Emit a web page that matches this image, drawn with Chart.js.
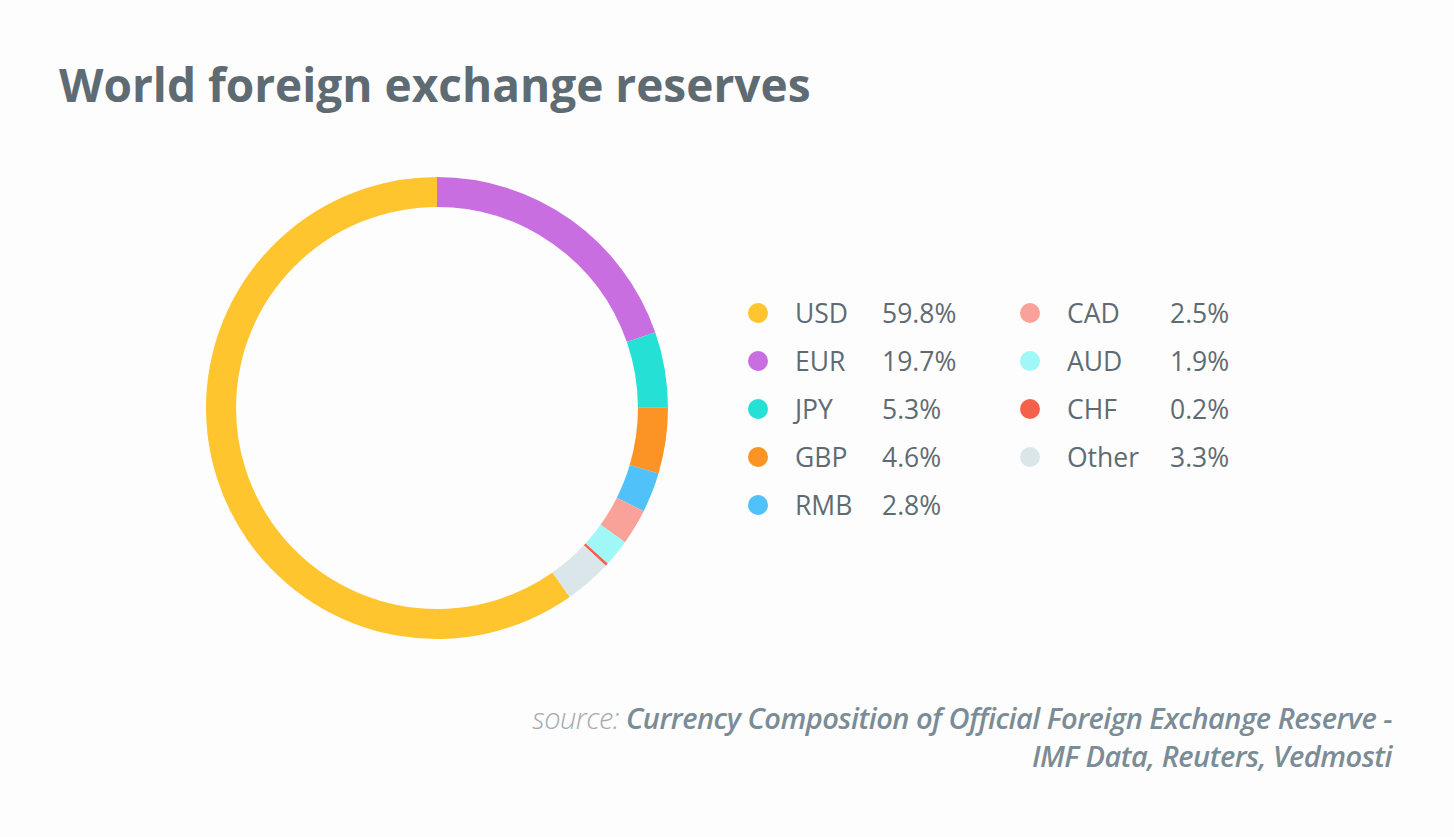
<!DOCTYPE html>
<html>
<head>
<meta charset="utf-8">
<title>World foreign exchange reserves</title>
<script src="https://cdn.jsdelivr.net/npm/chart.js@4.4.0/dist/chart.umd.min.js"></script>
<style>
	html, body {
		margin: 0;
		padding: 0;
		background: #fdfdfd;
		font-family: 'Open Sans', sans-serif;
	}
	#page {
		position: relative;
		width: 1454px;
		height: 837px;
		overflow: hidden;
	}
	h1 {
		position: absolute;
		left: 59px;
		top: 52px;
		margin: 0;
		font-size: 46px;
		font-weight: 700;
		color: #5f6b73;
		line-height: 64px;
	}
	#chart-wrap {
		position: absolute;
		left: 206px;
		top: 177px;
		width: 462px;
		height: 462px;
	}
	.legend-item {
		position: absolute;
		height: 40px;
		line-height: 40px;
		font-size: 26.5px;
		color: #5f6b73;
		white-space: nowrap;
	}
	.legend-item .dot {
		position: absolute;
		top: 10px;
		width: 20px;
		height: 20px;
		border-radius: 50%;
	}
	.legend-item span {
		position: absolute;
		top: 0;
	}
	#source {
		position: absolute;
		right: 62px;
		top: 699px;
		text-align: right;
		font-size: 29px;
		letter-spacing: -0.5px;
		line-height: 38px;
		font-style: italic;
		font-weight: 600;
		color: #7b8c96;
	}
	#source .lead {
		font-weight: 300;
		color: #a3abb1;
	}
</style>
</head>
<body>
<div id="page">
	<h1>World foreign exchange reserves</h1>
	<div id="chart-wrap"><canvas id="reserves-chart" width="462" height="462"></canvas></div>
	<div id="legend"></div>
	<div id="source"><span class="lead">source:</span> Currency Composition of Official Foreign Exchange Reserve -<br>IMF Data, Reuters, Vedmosti</div>
</div>
<script>
	// Share of world reserves, in percent.
	const currencies = ['USD', 'EUR', 'JPY', 'GBP', 'RMB', 'CAD', 'AUD', 'CHF', 'Other'];
	const shares = [59.8, 19.7, 5.3, 4.6, 2.8, 2.5, 1.9, 0.2, 3.3];
	const colors = ['#fec52f', '#c96ee0', '#25e0d4', '#fc9325', '#50c1f9', '#f9a29a', '#9ff7f6', '#f5604c', '#dbe6eb'];

	// USD is drawn first but should end at twelve o'clock, so EUR starts at the top.
	const total = shares.reduce(function(a, b) { return a + b; }, 0);
	const startAngle = -shares[0] / total * 360;

	const ctx = document.getElementById('reserves-chart').getContext('2d');
	new Chart(ctx, {
		type: 'doughnut',
		data: {
			labels: currencies,
			datasets: [{
				data: shares,
				backgroundColor: colors,
				borderWidth: 0
			}]
		},
		options: {
			responsive: false,
			animation: false,
			cutout: '87%',
			rotation: startAngle,
			layout: { padding: 0 },
			plugins: {
				legend: { display: false },
				tooltip: { enabled: false }
			}
		}
	});

	// Two-column legend: five rows on the left, the rest on the right.
	const legend = document.getElementById('legend');
	currencies.forEach(function(name, i) {
		const col = i < 5 ? 0 : 1;
		const row = col === 0 ? i : i - 5;
		const item = document.createElement('div');
		item.className = 'legend-item';
		item.style.left = (col === 0 ? 748 : 1020) + 'px';
		item.style.top = (293 + row * 48) + 'px';

		const dot = document.createElement('div');
		dot.className = 'dot';
		dot.style.left = '0px';
		dot.style.background = colors[i];
		item.appendChild(dot);

		const label = document.createElement('span');
		label.style.left = '47px';
		label.textContent = name;
		item.appendChild(label);

		const value = document.createElement('span');
		value.style.left = (col === 0 ? 134 : 150) + 'px';
		value.textContent = shares[i].toFixed(1) + '%';
		item.appendChild(value);

		legend.appendChild(item);
	});
</script>
</body>
</html>
